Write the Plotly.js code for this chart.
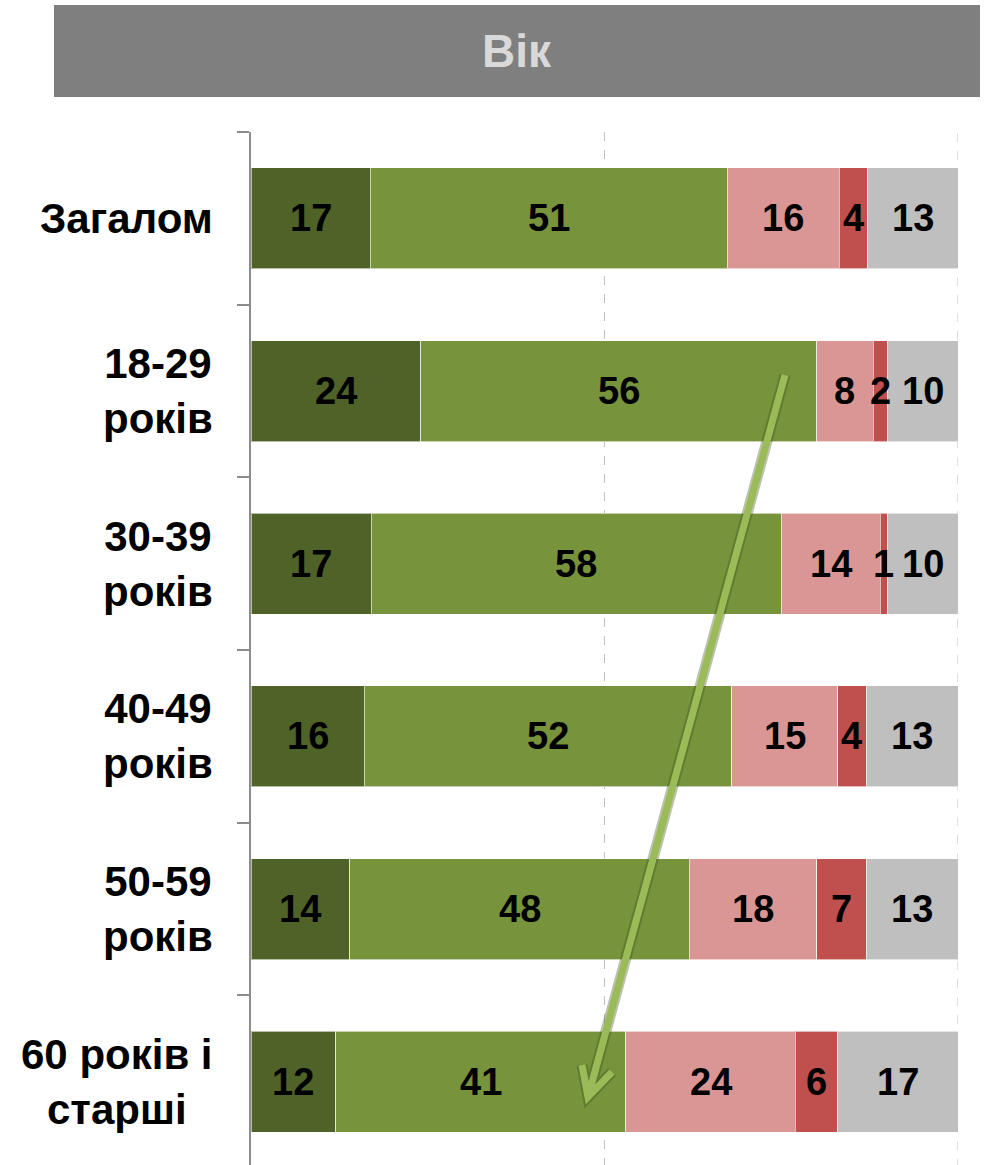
<!DOCTYPE html>
<html>
<head>
<meta charset="utf-8">
<script src="https://cdn.plot.ly/plotly-3.0.1.min.js"></script>
<style>html,body{margin:0;padding:0;background:#fff;overflow:hidden;}#chart{width:989px;height:1168px;}</style>
</head>
<body>
<div id="chart"></div>
<script>
const categories = ["Загалом", "18-29<br>років", "30-39<br>років", "40-49<br>років", "50-59<br>років", "60 років і<br>старші"];
const seriesNames = ["s1", "s2", "s3", "s4", "s5"];
const s1 = [17, 24, 17, 16, 14, 12];
const s2 = [51, 56, 58, 52, 48, 41];
const s3 = [16, 8, 14, 15, 18, 24];
const s4 = [4, 2, 1, 4, 7, 6];
const s5 = [13, 10, 10, 13, 13, 17];
const colors = ["#4f6228", "#77933c", "#d99694", "#c0504d", "#bfbfbf"];
const titleText = "Вік";

const series = [s1, s2, s3, s4, s5];
const FONT = "Liberation Sans, Arial, sans-serif";

const barTraces = series.map((vals, i) => ({
  type: "bar",
  orientation: "h",
  name: seriesNames[i],
  y: categories,
  x: vals,
  marker: {color: colors[i], line: {color: "rgba(255,255,255,0.6)", width: 1}},
  hoverinfo: "skip"
}));

// value labels at the middle of each normalised segment, drawn above all bars
const totals = categories.map((_, j) => series.reduce((a, s) => a + s[j], 0));
const valueAnnotations = [];
series.forEach((vals, i) => {
  vals.forEach((v, j) => {
    let before = 0;
    for (let k = 0; k < i; k++) before += series[k][j];
    valueAnnotations.push({
      xref: "x", yref: "y", x: (before + v / 2) / totals[j] * 100, y: categories[j],
      xanchor: "center", yanchor: "middle", text: String(v), showarrow: false,
      font: {family: FONT, size: 38, color: "#000", weight: "bold"}
    });
  });
});

const labelAnnotations = categories.map(c => ({
  xref: "paper", yref: "y", x: 0, y: c, xshift: -36,
  xanchor: "right", yanchor: "middle", align: "center",
  text: c, showarrow: false,
  font: {family: FONT, size: 42, color: "#000", weight: "bold"}
}));

const chartH = 1168;
const marginTop = 132;
const plotH = chartH - marginTop;
const py = p => 1 - (p - marginTop) / plotH;
const px = p => (p - 251) / 707;

const arrowPath = "M " + px(785) + " " + py(375) + " L " + px(588) + " " + py(1097) +
  " M " + px(582) + " " + py(1065) + " L " + px(588) + " " + py(1097) + " L " + px(612) + " " + py(1072);

const layout = {
  width: 989, height: chartH,
  margin: {l: 251, r: 31, t: marginTop, b: 0},
  paper_bgcolor: "#fff", plot_bgcolor: "#fff",
  barmode: "stack", barnorm: "percent", bargap: 0.415,
  showlegend: false,
  xaxis: {range: [0, 100], dtick: 50, showticklabels: false, showgrid: true,
          gridcolor: "#bfbfbf", griddash: "dash", gridwidth: 1, zeroline: false,
          showline: false, fixedrange: true},
  yaxis: {autorange: "reversed", showticklabels: false, showline: true, linecolor: "#8c8c8c",
          linewidth: 2, ticks: "outside", ticklen: 12, tickcolor: "#8c8c8c", tickwidth: 2,
          tickson: "boundaries", showgrid: false, zeroline: false, fixedrange: true},
  annotations: labelAnnotations.concat(valueAnnotations).concat([{
    xref: "paper", yref: "paper", x: px(517), y: py(51), xanchor: "center", yanchor: "middle",
    text: titleText, showarrow: false,
    font: {family: FONT, size: 46, color: "#d9d9d9", weight: "bold"}
  }]),
  shapes: [
    {type: "rect", xref: "paper", yref: "paper", x0: px(54), x1: px(980), y0: py(97), y1: py(5),
     fillcolor: "#7f7f7f", line: {width: 0}, layer: "below"},
    {type: "line", xref: "x", yref: "paper", x0: 100, x1: 100, y0: 0, y1: 1,
     line: {color: "#bfbfbf", width: 1, dash: "dash"}, layer: "below"},
    {type: "path", xref: "paper", yref: "paper", path: arrowPath,
     line: {color: "rgba(60,80,25,0.35)", width: 11}, layer: "above"},
    {type: "path", xref: "paper", yref: "paper", path: arrowPath,
     line: {color: "#9bbb59", width: 7}, layer: "above"}
  ]
};

Plotly.newPlot("chart", barTraces, layout, {staticPlot: true, displayModeBar: false});
</script>
</body>
</html>
